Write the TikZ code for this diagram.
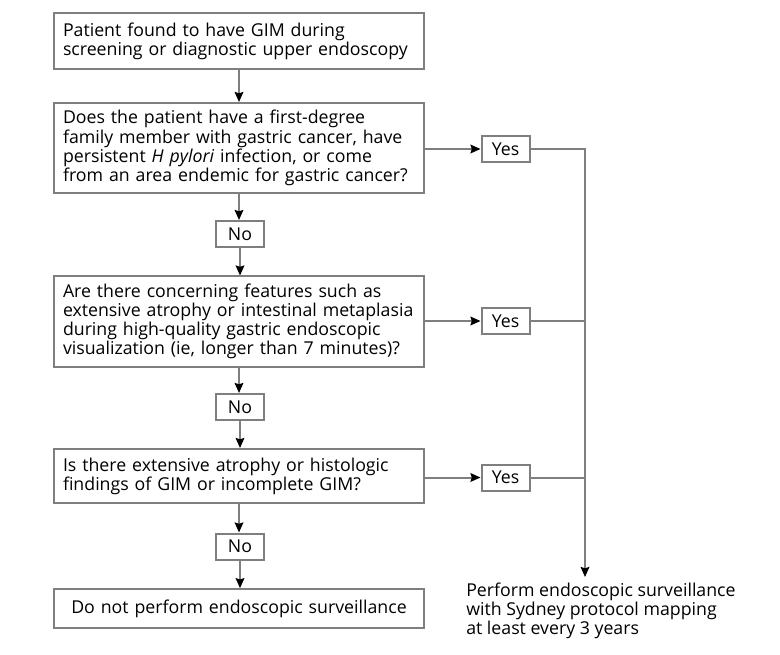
\documentclass[tikz,border=0pt]{standalone}
\usepackage{fontspec}
\setmainfont{Open Sans}
\usetikzlibrary{arrows.meta}
\definecolor{linegray}{HTML}{7F7F7F}
\begin{document}
\begin{tikzpicture}[x=0.75pt,y=-0.75pt,
  txt/.style={font=\fontsize{13.3pt}{12.6pt}\selectfont},
  box/.style={txt,draw=linegray,line width=1.5pt,inner xsep=6.75pt,inner ysep=0pt,
    text width=264pt,align=left},
  small/.style={txt,draw=linegray,line width=1.5pt,inner sep=0pt,minimum width=36pt,minimum height=19.5pt},
  conn/.style={draw=linegray,line width=1.5pt},
  arr/.style={conn,-{Stealth[length=7.5pt,width=6.5pt,inset=1pt,color=black]}}]
\fill[white] (0,0) rectangle (780,655);
\useasboundingbox (0,0) rectangle (780,655);

\node[box,minimum height=42pt] (b1) at (239,41) {Patient found to have GIM during\\screening or diagnostic upper endoscopy};
\node[box,minimum height=67.5pt] (b2) at (239,148) {Does the patient have a first-degree\\family member with gastric cancer, have\\persistent \textit{H pylori} infection, or come\\from an area endemic for gastric cancer?};
\node[small] (n1) at (240,234) {No};
\node[box,minimum height=67.5pt] (b3) at (239,321.5) {Are there concerning features such as\\extensive atrophy or intestinal metaplasia\\during high-quality gastric endoscopic\\visualization (ie, longer than 7 minutes)?};
\node[small] (n2) at (240,407) {No};
\node[box,minimum height=40.5pt] (b4) at (239,476) {Is there extensive atrophy or histologic\\findings of GIM or incomplete GIM?};
\node[small] (n3) at (240,546.5) {No};
\node[box,minimum height=29pt,align=center] (b5) at (239,608.5) {Do not perform endoscopic surveillance};

\node[small] (y1) at (505.5,149) {Yes};
\node[small] (y2) at (505.5,321) {Yes};
\node[small] (y3) at (505.5,477.5) {Yes};

\node[txt,anchor=north west,inner sep=0pt,align=left] (fin) at (466,583) {Perform endoscopic surveillance\\with Sydney protocol mapping\\at least every 3 years};

\coordinate (c1) at (585,149);
\coordinate (tip) at (585,577);

\draw[arr] (b1.south) -- (b2.north);
\draw[arr] (b2.south) -- (b2.south |- n1.north);
\draw[arr] (n1.south) -- (n1.south |- b3.north);
\draw[arr] (b3.south) -- (b3.south |- n2.north);
\draw[arr] (n2.south) -- (n2.south |- b4.north);
\draw[arr] (b4.south) -- (b4.south |- n3.north);
\draw[arr] (n3.south) -- (n3.south |- b5.north);

\draw[arr] (b2.east |- y1) -- (y1.west);
\draw[arr] (b3.east |- y2) -- (y2.west);
\draw[arr] (b4.east |- y3) -- (y3.west);

\draw[arr] (y1.east) -- (c1) -- (tip);
\draw[conn] (y2.east) -- (y2.east -| c1);
\draw[conn] (y3.east) -- (y3.east -| c1);
\end{tikzpicture}
\end{document}
